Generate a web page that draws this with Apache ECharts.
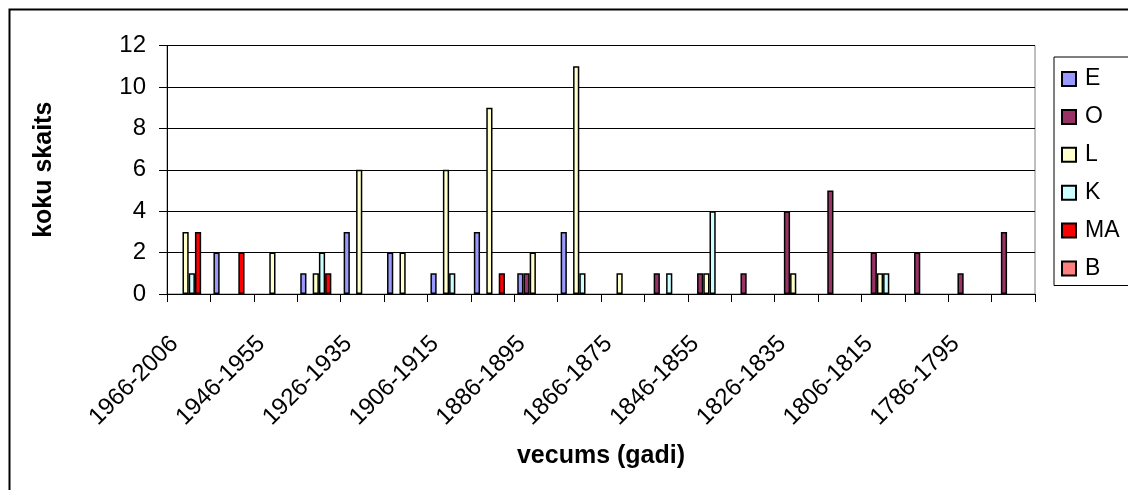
<!DOCTYPE html>
<html>
<head>
<meta charset="utf-8">
<script src="https://cdn.jsdelivr.net/npm/echarts@6/dist/echarts.min.js"></script>
<style>
html,body{margin:0;padding:0;background:#fff;}
#chart{width:1128px;height:490px;}
</style>
</head>
<body>
<div id="chart"></div>
<script>
var categories = ["1966-2006","1956-1965","1946-1955","1936-1945","1926-1935","1916-1925","1906-1915","1896-1905","1886-1895","1876-1885","1866-1875","1856-1865","1846-1855","1836-1845","1826-1835","1816-1825","1806-1815","1796-1805","1786-1795","1776-1785"];
var seriesNames = ["E","O","L","K","MA","B"];
var seriesColors = ["#9999FF","#993366","#FFFFCC","#CCFFFF","#FF0000","#FF8080"];
var valuesE  = [0,2,0,1,3,2,1,3,1,3,0,0,0,0,0,0,0,0,0,0];
var valuesO  = [0,0,0,0,0,0,0,0,1,0,0,1,1,1,4,5,2,2,1,3];
var valuesL  = [3,0,2,1,6,2,6,9,2,11,1,0,1,0,1,0,1,0,0,0];
var valuesK  = [1,0,0,2,0,0,1,0,0,1,0,1,4,0,0,0,1,0,0,0];
var valuesMA = [3,2,0,1,0,0,0,1,0,0,0,0,0,0,0,0,0,0,0,0];
var valuesB  = [0,0,0,0,0,0,0,0,0,0,0,0,0,0,0,0,0,0,0,0];
var yTicks = {min:0, max:12, interval:2};
var yTitle = "koku skaits";
var xTitle = "vecums (gadi)";

var FONT = "'Liberation Sans', Arial, sans-serif";
var allValues = [valuesE, valuesO, valuesL, valuesK, valuesMA, valuesB];

var chart = echarts.init(document.getElementById('chart'), null, {renderer:'canvas'});
var series = seriesNames.map(function(n, i){
  return {
    name: n,
    type: 'bar',
    // zero-count bars are not drawn (no outline on the baseline)
    data: allValues[i].map(function(v){ return v === 0 ? '-' : v; }),
    barGap: '0%',
    barCategoryGap: '14%',
    itemStyle: {color: seriesColors[i], borderColor: '#000', borderWidth: 1.5},
    emphasis: {disabled: true},
    animation: false
  };
});

chart.setOption({
  animation: false,
  backgroundColor: '#fff',
  textStyle: {fontFamily: FONT, color: '#000'},
  graphic: [{
    type: 'rect', left: 7, top: 7,
    shape: {x: 0, y: 0, width: 1300, height: 700},
    style: {fill: 'none', stroke: '#000', lineWidth: 2},
    silent: true, z: 100
  }],
  grid: {
    left: 167, top: 45.5, right: 93, bottom: 196,
    show: true, borderColor: '#808080', borderWidth: 1, containLabel: false
  },
  legend: {
    orient: 'vertical',
    left: 1054, top: 57,
    data: seriesNames,
    icon: 'rect',
    itemWidth: 14, itemHeight: 14,
    itemGap: 13.9,
    padding: [10, 30, 5, 7],
    borderColor: '#000', borderWidth: 1,
    textStyle: {fontFamily: FONT, fontSize: 23, color: '#000', lineHeight: 24, padding: [0,0,0,4]},
    selectedMode: false
  },
  xAxis: {
    type: 'category',
    data: categories,
    boundaryGap: true,
    axisLine: {lineStyle: {color: '#000', width: 1}},
    axisTick: {show: true, interval: 0, length: 8, lineStyle: {color: '#000'}},
    axisLabel: {interval: 1, rotate: 45, fontSize: 24, color: '#000', fontFamily: FONT, margin: 32, padding: [0, 20, 0, 0]},
    splitLine: {show: false},
    name: xTitle,
    nameLocation: 'middle',
    nameGap: 150,
    nameTextStyle: {fontFamily: FONT, fontSize: 25, fontWeight: 'bold', color: '#000'}
  },
  yAxis: {
    type: 'value',
    min: yTicks.min, max: yTicks.max, interval: yTicks.interval,
    axisLine: {show: true, lineStyle: {color: '#000', width: 1}},
    axisTick: {show: true, length: 8, lineStyle: {color: '#000'}},
    axisLabel: {fontSize: 24, color: '#000', fontFamily: FONT, margin: 21},
    splitLine: {show: true, lineStyle: {color: '#000', width: 1}},
    name: yTitle,
    nameLocation: 'middle',
    nameGap: 110,
    nameTextStyle: {fontFamily: FONT, fontSize: 25, fontWeight: 'bold', color: '#000'}
  },
  series: series
});
</script>
</body>
</html>
